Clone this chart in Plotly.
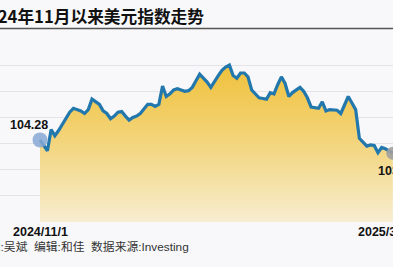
import pandas as pd
import plotly.graph_objects as go

# ---- data ----
dates = [d.strftime("%Y-%m-%d") for d in pd.bdate_range("2024-11-01", "2025-03-18")
         if d.strftime("%m-%d") not in ("12-25", "01-01")]
values = [
    104.28, 103.90, 103.45, 105.08, 104.60, 105.00, 105.50, 106.00, 106.40, 106.70,
    106.60, 106.50, 106.30, 106.60, 107.40, 107.20, 107.00, 106.50, 106.30, 105.90,
    106.10, 106.40, 106.45, 106.10, 105.80, 106.00, 106.10, 106.30, 106.70, 107.00,
    107.00, 106.85, 107.00, 108.40, 107.60, 107.80, 108.10, 108.20, 108.10, 108.00,
    108.05, 108.30, 108.80, 109.30, 109.00, 108.70, 108.30, 108.80, 109.20, 109.60,
    109.85, 110.00, 109.20, 109.00, 109.40, 109.40, 109.10, 108.10, 107.80, 107.50,
    107.45, 107.40, 107.90, 107.80, 108.50, 109.10, 108.60, 107.60, 107.90, 108.10,
    108.30, 108.00, 107.50, 106.80, 106.75, 106.70, 107.20, 106.50, 106.60, 106.60,
    106.55, 106.30, 107.00, 107.60, 107.10, 106.60, 104.40, 104.10, 103.80, 103.90,
    103.85, 103.30, 103.70, 103.60, 103.40, 103.26,
]
y_ticks = [98, 100, 102, 104, 106, 108, 110, 112]
first_label = "2024/11/1"
last_label = "2025/3/18"
title_text = "2024年11月以来美元指数走势"
footer_text = "制图:吴斌  编辑:和佳  数据来源:Investing"

W, H = 393, 267
top, bottom = 39, 222
n = len(values)
x0_px, xend_px = 40, 392.8
ppu = (xend_px - x0_px) / (n - 1)
xr = [-x0_px / ppu, (W - x0_px) / ppu]

def py(p):
    return (bottom - p) / (bottom - top)

def px_of_index(i):
    return (i - xr[0]) / (xr[1] - xr[0])

NUM = "Liberation Sans, Arial, sans-serif"
CJK = "Noto Sans CJK SC, sans-serif"
MIX = "Liberation Sans, Noto Sans CJK SC, sans-serif"

fig = go.Figure()
fig.add_trace(go.Scatter(
    x=dates, y=values, mode="lines",
    line=dict(color="#2277ad", width=3.2),
    fill="tozeroy",
    fillgradient=dict(type="vertical", start=98, stop=110.5,
                      colorscale=[[0, "#f7edd0"], [0.5, "#f3d47a"], [1, "#efbf36"]]),
    hoverinfo="skip", showlegend=False,
))
fig.add_trace(go.Scatter(
    x=[dates[0]], y=[values[0]], mode="markers",
    marker=dict(size=15, color="rgba(135,168,212,0.85)"),
    cliponaxis=False, showlegend=False,
))
fig.add_trace(go.Scatter(
    x=[dates[-1]], y=[values[-1]], mode="markers",
    marker=dict(size=13, color="rgba(160,160,160,0.9)"),
    cliponaxis=False, showlegend=False,
))

fig.add_annotation(x=dates[0], y=values[0], text=f"{values[0]:.2f}", showarrow=False,
                   xshift=-11, yshift=15,
                   font=dict(family=NUM, size=12.5, color="#111", weight="bold"))
fig.add_annotation(x=px_of_index(n - 1), xref="paper", y=values[-1], text=f"{values[-1]:.2f}",
                   showarrow=False, xanchor="center", xshift=4, yshift=-18,
                   font=dict(family=NUM, size=12.5, color="#111", weight="bold"))

fig.add_annotation(x=px_of_index(0), xref="paper", y=py(232), yref="paper", text=first_label,
                   showarrow=False, xanchor="center", yanchor="middle",
                   font=dict(family=NUM, size=12.5, color="#111", weight="bold"))
fig.add_annotation(x=px_of_index(n - 1), xref="paper", y=py(232), yref="paper", text=last_label,
                   showarrow=False, xanchor="center", yanchor="middle", xshift=-7,
                   font=dict(family=NUM, size=12.5, color="#111", weight="bold"))

fig.add_annotation(x=-24 / W, xref="paper", y=py(16), yref="paper", text=title_text,
                   showarrow=False, xanchor="left", yanchor="middle",
                   font=dict(family=CJK, size=16.7, color="#111", weight="bold"))
fig.add_annotation(x=-25 / W, xref="paper", y=py(247), yref="paper", text=footer_text,
                   showarrow=False, xanchor="left", yanchor="middle",
                   font=dict(family=MIX, size=11.8, color="#333"))

fig.add_shape(type="line", xref="paper", yref="paper", x0=0, x1=1,
              y0=py(28.5), y1=py(28.5), line=dict(color="#555", width=1.5))

fig.update_xaxes(type="category", range=xr, showticklabels=False, showgrid=False,
                 zeroline=False, showline=False, ticks="")
fig.update_yaxes(range=[98, 112], tickvals=y_ticks, showticklabels=False,
                 showgrid=True, gridcolor="#e4e4e6", gridwidth=1, zeroline=False,
                 showline=False, ticks="")
fig.update_layout(
    width=W, height=H, margin=dict(l=0, r=0, t=top, b=H - bottom, pad=0),
    paper_bgcolor="#f8f8fa", plot_bgcolor="#f8f8fa", showlegend=False,
)
fig.write_html("out.html", config={"displayModeBar": False})
